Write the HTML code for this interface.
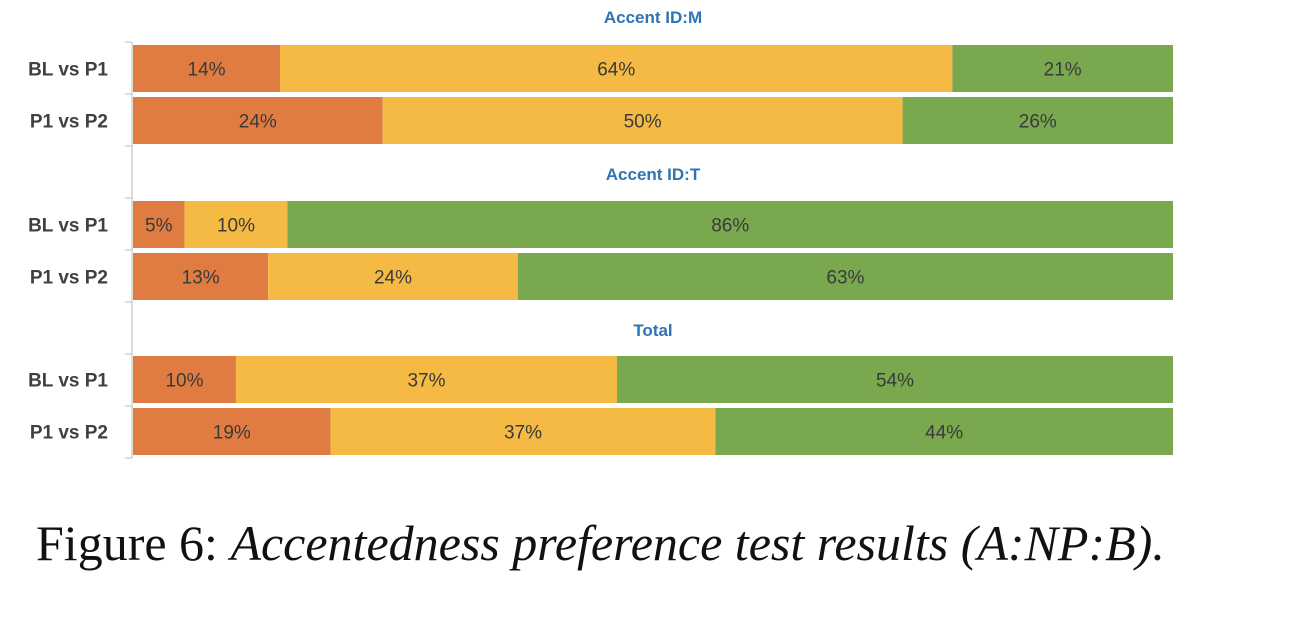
<!DOCTYPE html>
<html><head><meta charset="utf-8"><style>
body{margin:0;background:#fff;width:1293px;height:637px;overflow:hidden;position:relative}
svg{position:absolute;left:0;top:0}
.cap{position:absolute;left:36px;top:514px;font-family:"Liberation Serif",serif;font-size:50px;color:#111;white-space:nowrap}
</style></head><body>
<svg id="chart" width="1293" height="637"></svg>
<div class="cap">Figure 6: <i>Accentedness preference test results (A:NP:B).</i></div>
<script>
const groups=["Accent ID:M","Accent ID:T","Total"];
const rowLabels=["BL vs P1","P1 vs P2","BL vs P1","P1 vs P2","BL vs P1","P1 vs P2"];
const prefA=[14,24,5,13,10,19];
const noPref=[64,50,10,24,37,37];
const prefB=[21,26,86,63,54,44];
const rowTops=[45,97,201,253,356,408];
const titleY=[17,174,330];
const X0=133,X1=1173,BH=47;
const colors=["#E07C42","#F4BA44","#7AA84F"];
const ns="http://www.w3.org/2000/svg";
const svg=document.getElementById('chart');
function mk(t,a){const e=document.createElementNS(ns,t);for(const k in a)e.setAttribute(k,a[k]);svg.appendChild(e);return e;}
const ax=mk('line',{x1:132,y1:42,x2:132,y2:458,stroke:'#d0d0d0','stroke-width':1.5});


for(let i=0;i<9;i++){const y=42+i*52;const t=mk('line',{x1:125,y1:y,x2:132,y2:y,stroke:'#d0d0d0','stroke-width':1.5});

}
groups.forEach((g,i)=>{const t=mk('text',{x:(X0+X1)/2,y:titleY[i]+6,'text-anchor':'middle','font-family':'Liberation Sans, sans-serif','font-size':17,'font-weight':'bold',fill:'#2E74B5'});t.textContent=g;

});
rowLabels.forEach((lab,r)=>{
 const y=rowTops[r];
 const l=mk('text',{x:108,y:y+BH/2+7,'text-anchor':'end','font-family':'Liberation Sans, sans-serif','font-size':19,'font-weight':'bold',fill:'#404040'});l.textContent=lab;
 
 
 const vals=[prefA[r],noPref[r],prefB[r]];const tot=vals[0]+vals[1]+vals[2];
 let x=X0;
 vals.forEach((v,k)=>{const w=v/tot*(X1-X0);
  const b=mk('rect',{x:x,y:y,width:w,height:BH,fill:colors[k]});
  
  
  const t=mk('text',{x:x+w/2,y:y+BH/2+7,'text-anchor':'middle','font-family':'Liberation Sans, sans-serif','font-size':19,fill:'#3a3a3a'});t.textContent=v+'%';
  
  
  x+=w;});
});
</script>
</body></html>
